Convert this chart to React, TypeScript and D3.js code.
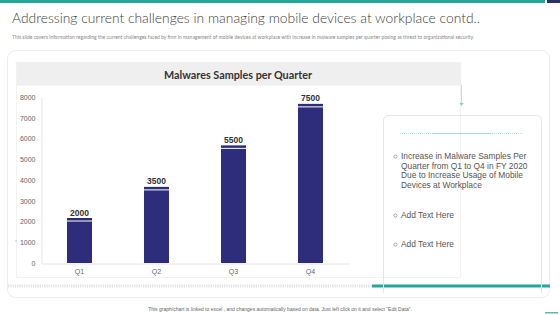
import React, { useEffect, useRef } from 'react';
import * as d3 from 'd3';

const quarters = ['Q1', 'Q2', 'Q3', 'Q4'];
const samples = [2000, 3500, 5500, 7500];
const yTicks = [0, 1000, 2000, 3000, 4000, 5000, 6000, 7000, 8000];
const bullets = [
  ['Increase in Malware  Samples Per', 'Quarter from Q1 to Q4 in  FY 2020', 'Due to  Increase Usage of Mobile', 'Devices at Workplace'],
  ['Add Text Here'],
  ['Add Text Here'],
];

const W = 560;
const H = 315;

const App: React.FC = () => {
  const svgRef = useRef<SVGSVGElement | null>(null);

  useEffect(() => {
    if (!svgRef.current) return;
    const svg = d3.select(svgRef.current);
    svg.selectAll('*').remove();

    const font = 'Lato, "Open Sans", sans-serif';
    const sans = '"Liberation Sans", Arial, sans-serif';

    svg.append('rect').attr('width', W).attr('height', H).attr('fill', '#fff');

    // top strip
    svg.append('rect').attr('x', 0).attr('y', 0).attr('width', 545).attr('height', 3).attr('fill', '#26a69a');
    svg.append('rect').attr('x', 547).attr('y', 0).attr('width', 13).attr('height', 3).attr('fill', '#2e2d6e');

    // title + subtitle
    svg.append('text')
      .attr('x', 12).attr('y', 23)
      .attr('font-family', font).attr('font-weight', 300)
      .attr('font-size', 14.5).attr('fill', '#404040')
      .attr('textLength', 468).attr('lengthAdjust', 'spacingAndGlyphs')
      .text('Addressing current challenges in managing mobile devices at workplace contd..');
    svg.append('text')
      .attr('x', 12).attr('y', 39)
      .attr('font-family', font).attr('font-size', 4.8).attr('fill', '#888')
      .attr('textLength', 462).attr('lengthAdjust', 'spacingAndGlyphs')
      .text('This slide covers information regarding the current challenges faced by firm in management of mobile devices at workplace with increase in malware samples per quarter posing as threat to organizational security.');

    // outer card
    svg.append('rect')
      .attr('x', 7.5).attr('y', 50.5).attr('width', 542).attr('height', 247).attr('rx', 8)
      .attr('fill', '#fff').attr('stroke', '#ececec');

    // chart panel
    svg.append('rect')
      .attr('x', 16.5).attr('y', 62.5).attr('width', 444).attr('height', 215)
      .attr('fill', '#fff').attr('stroke', '#f2f2f2');
    svg.append('rect')
      .attr('x', 16.5).attr('y', 62.5).attr('width', 444).attr('height', 23)
      .attr('fill', '#efefef');
    svg.append('text')
      .attr('x', 238).attr('y', 78.5).attr('text-anchor', 'middle')
      .attr('font-family', font).attr('font-weight', 700)
      .attr('font-size', 10.8).attr('fill', '#333')
      .text('Malwares Samples per Quarter');

    // connector to text box
    svg.append('line').attr('x1', 461.5).attr('x2', 461.5).attr('y1', 85).attr('y2', 103)
      .attr('stroke', '#cfd8dc');
    svg.append('path').attr('d', 'M459.5,103 L463.5,103 L461.5,106 Z').attr('fill', '#90c8c4');

    // scales
    const x = d3.scaleBand<string>()
      .domain(quarters)
      .range([41, 349])
      .paddingInner(0.675)
      .paddingOuter(0.3375);
    const y = d3.scaleLinear().domain([0, 8000]).range([263, 97]);

    // axes
    const yAxis = svg.append('g')
      .attr('transform', 'translate(41.5,0)')
      .call(d3.axisLeft(y).tickValues(yTicks).tickSize(0).tickPadding(6).tickFormat(d3.format('d')));
    yAxis.select('.domain').attr('stroke', '#e6e6e6');
    yAxis.selectAll('text')
      .attr('font-family', sans)
      .attr('font-size', 7).attr('fill', '#666');

    const xAxis = svg.append('g')
      .attr('transform', 'translate(0,263.5)')
      .call(d3.axisBottom(x).tickSize(0).tickPadding(6));
    xAxis.select('.domain').attr('stroke', '#e6e6e6');
    xAxis.selectAll('text')
      .attr('font-family', sans)
      .attr('font-size', 7).attr('fill', '#666');

    svg.append('circle').attr('cx', 16).attr('cy', 241).attr('r', 0.8).attr('fill', '#bbb');

    // bars
    const bars = svg.append('g');
    const bw = x.bandwidth();
    quarters.forEach((q, i) => {
      const v = samples[i];
      const x0 = x(q) as number;
      bars.append('rect')
        .attr('x', x0).attr('y', y(v)).attr('width', bw).attr('height', y(0) - y(v))
        .attr('fill', '#2e2d7b');
      bars.append('rect')
        .attr('x', x0).attr('y', y(v) - 3.5).attr('width', bw).attr('height', 2.5)
        .attr('fill', '#2e2d7b');
      bars.append('text')
        .attr('x', x0 + bw / 2).attr('y', y(v) - 6)
        .attr('text-anchor', 'middle')
        .attr('font-family', sans).attr('font-weight', 700)
        .attr('font-size', 8.5).attr('fill', '#333')
        .text(d3.format('d')(v));
    });

    // dotted divider + teal bar
    svg.append('line').attr('x1', 8).attr('x2', 372).attr('y1', 286).attr('y2', 286)
      .attr('stroke', '#cfcfcf').attr('stroke-width', 3).attr('stroke-dasharray', '0.6 1.2');
    svg.append('rect').attr('x', 372).attr('y', 284.5).attr('width', 178).attr('height', 3)
      .attr('fill', '#26a69a');

    // text box
    svg.append('path')
      .attr('d', 'M383.5,293 L383.5,121 Q383.5,115.5 389,115.5 L536,115.5 Q541.5,115.5 541.5,121 L541.5,293')
      .attr('fill', 'none').attr('stroke', '#e6e6e6');
    svg.append('line').attr('x1', 400).attr('x2', 524).attr('y1', 133.5).attr('y2', 133.5)
      .attr('stroke', '#b8e0dc').attr('stroke-dasharray', '1 1');
    svg.append('line').attr('x1', 432).attr('x2', 490).attr('y1', 133.5).attr('y2', 133.5)
      .attr('stroke', '#a8d8d2');

    const starts = [159, 218, 247];
    bullets.forEach((lines, bi) => {
      const y0 = starts[bi];
      svg.append('circle').attr('cx', 395.5).attr('cy', y0 - 2.5).attr('r', 1.6)
        .attr('fill', 'none').attr('stroke', '#777').attr('stroke-width', 0.6);
      lines.forEach((l, li) => {
        svg.append('text')
          .attr('x', 401).attr('y', y0 + li * 9.7)
          .attr('font-family', sans)
          .attr('font-size', 8.4).attr('fill', '#555')
          .text(l);
      });
    });

    // footer
    svg.append('text')
      .attr('x', 280).attr('y', 310.5).attr('text-anchor', 'middle')
      .attr('font-family', sans)
      .attr('font-size', 5).attr('fill', '#666')
      .text('This graph/chart is linked to excel , and changes automatically based on data. Just left click on it and select "Edit Data".');
    svg.append('rect').attr('x', 545).attr('y', 312).attr('width', 13).attr('height', 1.5)
      .attr('fill', '#5fb8b0');
  }, []);

  return (
    <div style={{ position: 'fixed', left: 0, top: 0 }}>
      <svg ref={svgRef} width={W} height={H} style={{ display: 'block' }} />
    </div>
  );
};

export default App;
